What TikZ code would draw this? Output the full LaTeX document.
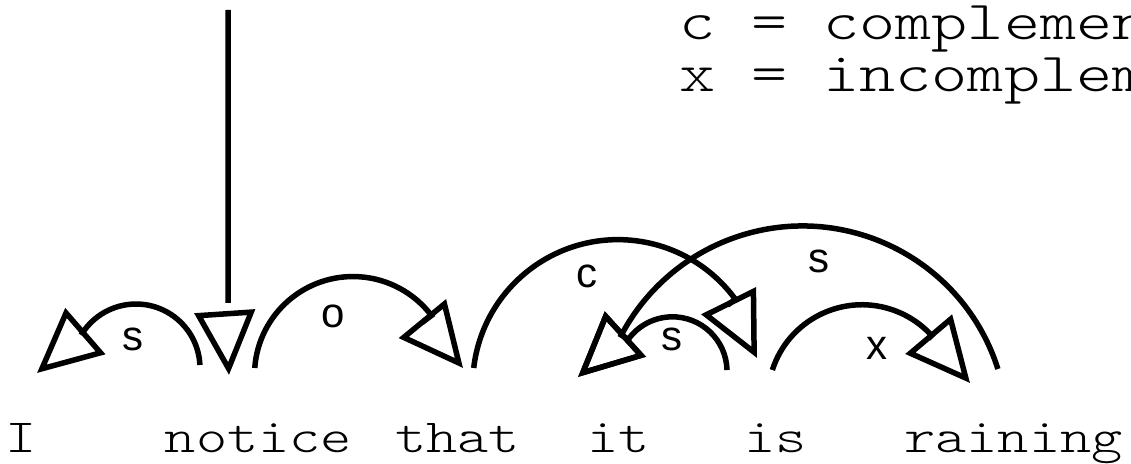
\documentclass[tikz,border=0pt]{standalone}
\usepackage{fontspec}
\usepackage{graphicx}
\usetikzlibrary{arrows.meta}
\newfontfamily\labelfont{Liberation Sans}
\newfontfamily\monolight{lmmonolt10-regular.otf}
\newcommand\wordwide[1]{\scalebox{1.25}[1]{#1}}
\tikzset{
  link/.style={line width=5.5pt, -{Triangle[open, length=64pt, width=60pt]}},
  word/.style={font=\fontsize{47.5}{50}\selectfont\monolight, inner sep=0pt, anchor=base},
  legend/.style={font=\fontsize{55}{60}\selectfont\monolight, inner sep=0pt, anchor=base west},
  lab/.style={font=\fontsize{42}{44}\selectfont\labelfont, inner sep=0pt}
}
\begin{document}
\begin{tikzpicture}[x=1pt,y=1pt]
\useasboundingbox (0,0) rectangle (1131,463);
\clip (0,0) rectangle (1131,463);
% words
\node[word] (wI) at (21,11) {\wordwide{I}};
\node[word] (wnotice) at (258.5,11) {\wordwide{notice}};
\node[word] (wthat) at (457.5,11) {\wordwide{that}};
\node[word] (wit) at (618.5,11) {\wordwide{it}};
\node[word] (wis) at (775.5,11) {\wordwide{is}};
\node[word] (wraining) at (1013.5,11) {\wordwide{raining}};
% legend
\node[legend] (legc) at (679,423) {\wordwide{c = complemen}};
\node[legend] (legx) at (679,371) {\wordwide{x = incomplem}};
% labels
\node[lab] (ls1) at (133,124) {s};
\node[lab] (lo) at (333,147) {o};
\node[lab] (lc) at (587,187) {c};
\node[lab] (ls2) at (672,124) {s};
\node[lab] (ls3) at (819,202) {s};
\node[lab] (lx) at (877,115) {x};
% connector end points
\coordinate (rt) at (228,453);
\coordinate (rb) at (228,160);
\coordinate (nb) at (224.94,148.87);
\coordinate (nt) at (229,88);
\coordinate (a1s) at (199.9,98.0);
\coordinate (a1b) at (83.1,129.95);
\coordinate (a1t) at (37,90);
\coordinate (a3s) at (254.75,95.0);
\coordinate (a3b) at (424.26,142.13);
\coordinate (a3t) at (463,95);
\coordinate (a4s) at (473.7,95.0);
\coordinate (a4b) at (729.92,159.66);
\coordinate (a4t) at (757,105);
\coordinate (a5s) at (997.9,94.0);
\coordinate (a6s) at (727.0,93.0);
\coordinate (itb) at (623.18,126.98);
\coordinate (itt) at (578,86);
\coordinate (a7s) at (772.35,93.0);
\coordinate (a7b) at (930.62,126.59);
\coordinate (a7t) at (970,80);
% connectors
\draw[link] (rt) -- (rb) (nb) -- (nt);
\draw[link] (a1s) arc[start angle=2.7, end angle=146.55, radius=64] -- (a1b) -- (a1t);
\draw[link] (a3s) arc[start angle=175.9, end angle=37.2, radius=98.5] -- (a3b) -- (a3t);
\draw[link] (a4s) arc[start angle=173.3, end angle=36.1, radius=145.3] -- (a4b) -- (a4t);
\draw[link] (a5s) arc[start angle=17.6, end angle=152.09, radius=205] -- (itb) -- (itt);
\draw[link] (a6s) arc[start angle=1.5, end angle=144.3, radius=54.6] -- (itb) -- (itt);
\draw[link] (a7s) arc[start angle=162.1, end angle=42.4, radius=94.2] -- (a7b) -- (a7t);
\end{tikzpicture}
\end{document}
